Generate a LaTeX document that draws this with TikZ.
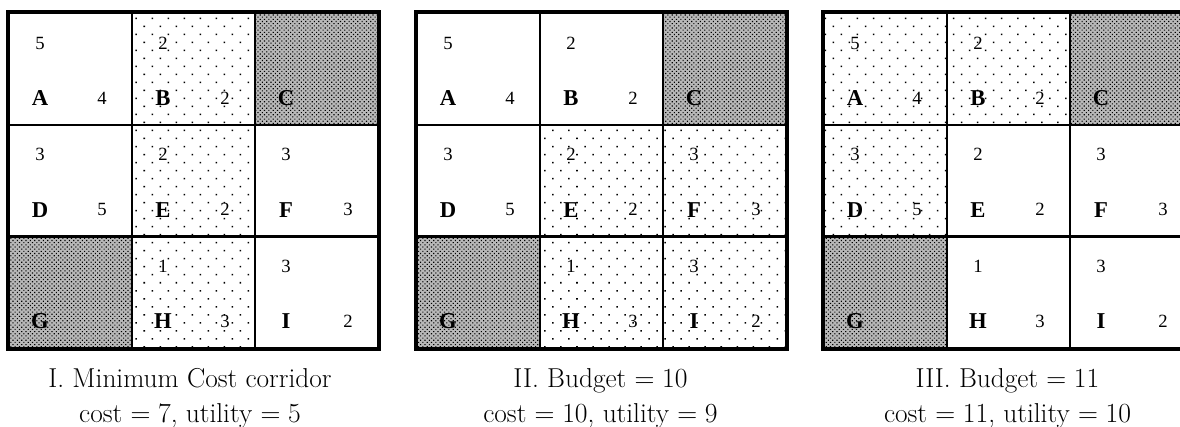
\documentclass[tikz,border=0pt]{standalone}
\usepackage{fontspec}
\newfontfamily\cellfont{Liberation Serif}
\usepackage{tikz}
\usetikzlibrary{positioning,patterns.meta}

\begin{document}
\begin{tikzpicture}[x=0.75pt, y=-0.75pt,
    cell/.style={rectangle, draw, line width=1.8pt, anchor=north west, inner sep=0pt, minimum width=92.25pt, minimum height=83.8pt},
    open/.style={fill=white},
    path/.style={pattern={Dots[distance=8.5pt, radius=0.8pt, angle=45]}},
    dense/.style={fill=black!28, postaction={pattern={Dots[distance=2.3pt, radius=0.6pt, angle=45]}}},
    frame/.style={draw, line width=2.4pt},
    letter/.style={font=\cellfont\bfseries\fontsize{17}{17}\selectfont, inner sep=0pt},
    num/.style={font=\cellfont\fontsize{14}{14}\selectfont, inner sep=0pt},
    caption/.style={font=\fontsize{20.5}{26}\selectfont, align=center, anchor=base, inner sep=0pt}]

    \useasboundingbox (0,0) rectangle (1180,427);
    \clip (0,0) rectangle (1180,427);

    % Grid I: minimum cost corridor
    \foreach \n/\c/\r/\t/\u/\f in {A/0/0/5/4/open, B/1/0/2/2/path, D/0/1/3/5/open, E/1/1/2/2/path, F/2/1/3/3/open, H/1/2/1/3/path, I/2/2/3/2/open} {
        \node[cell, \f] (I\n) at (8+\c*123, 12+\r*111.7) {};
        \node[num] (I\n-top) at ([shift={(32,31)}]I\n.north west) {\t};
        \node[letter] (I\n-lbl) at ([shift={(32,86)}]I\n.north west) {\n};
        \node[num] (I\n-val) at ([shift={(94,86)}]I\n.north west) {\u};
    }
    \node[cell, dense] (IC) at (8+2*123, 12) {};
    \node[letter] (IC-lbl) at ([shift={(32,86)}]IC.north west) {C};
    \node[cell, dense] (IG) at (8, 12+2*111.7) {};
    \node[letter] (IG-lbl) at ([shift={(32,86)}]IG.north west) {G};
    \draw[frame] (IA.north west) rectangle (II.south east);

    % Grid II: budget 10
    \foreach \n/\c/\r/\t/\u/\f in {A/0/0/5/4/open, B/1/0/2/2/open, D/0/1/3/5/open, E/1/1/2/2/path, F/2/1/3/3/path, H/1/2/1/3/path, I/2/2/3/2/path} {
        \node[cell, \f] (II\n) at (416+\c*123, 12+\r*111.7) {};
        \node[num] (II\n-top) at ([shift={(32,31)}]II\n.north west) {\t};
        \node[letter] (II\n-lbl) at ([shift={(32,86)}]II\n.north west) {\n};
        \node[num] (II\n-val) at ([shift={(94,86)}]II\n.north west) {\u};
    }
    \node[cell, dense] (IIC) at (416+2*123, 12) {};
    \node[letter] (IIC-lbl) at ([shift={(32,86)}]IIC.north west) {C};
    \node[cell, dense] (IIG) at (416, 12+2*111.7) {};
    \node[letter] (IIG-lbl) at ([shift={(32,86)}]IIG.north west) {G};
    \draw[frame] (IIA.north west) rectangle (III.south east);

    % Grid III: budget 11
    \foreach \n/\c/\r/\t/\u/\f in {A/0/0/5/4/path, B/1/0/2/2/path, D/0/1/3/5/path, E/1/1/2/2/open, F/2/1/3/3/open, H/1/2/1/3/open, I/2/2/3/2/open} {
        \node[cell, \f] (III\n) at (823+\c*123, 12+\r*111.7) {};
        \node[num] (III\n-top) at ([shift={(32,31)}]III\n.north west) {\t};
        \node[letter] (III\n-lbl) at ([shift={(32,86)}]III\n.north west) {\n};
        \node[num] (III\n-val) at ([shift={(94,86)}]III\n.north west) {\u};
    }
    \node[cell, dense] (IIIC) at (823+2*123, 12) {};
    \node[letter] (IIIC-lbl) at ([shift={(32,86)}]IIIC.north west) {C};
    \node[cell, dense] (IIIG) at (823, 12+2*111.7) {};
    \node[letter] (IIIG-lbl) at ([shift={(32,86)}]IIIG.north west) {G};
    \draw[frame] (IIIA.north west) rectangle (IIII.south east);

    % Captions (base = last line)
    \node[caption] (capI) at (190,422) {I. Minimum Cost corridor\\cost $=7$, utility $=5$};
    \node[caption] (capII) at (600.5,422) {II. Budget $=10$\\cost $=10$, utility $=9$};
    \node[caption] (capIII) at (1007.5,422) {III. Budget $=11$\\cost $=11$, utility $=10$};

\end{tikzpicture}
\end{document}
